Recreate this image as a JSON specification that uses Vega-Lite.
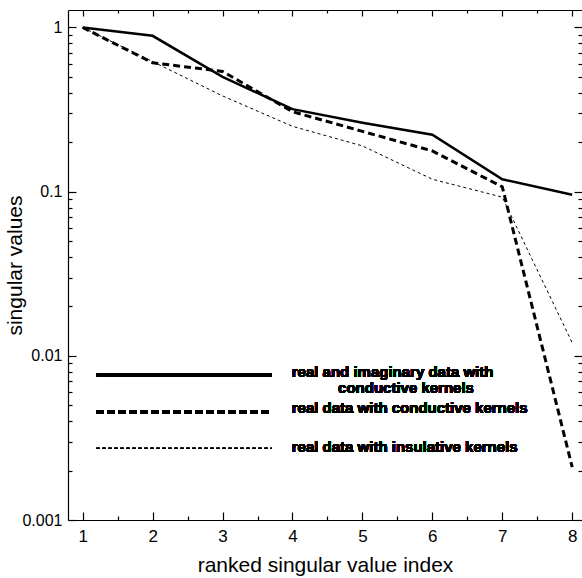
{
  "$schema": "https://vega.github.io/schema/vega-lite/v6.json",
  "width": 514,
  "height": 510,
  "autosize": {"type": "none"},
  "padding": {"left": 68, "top": 10, "right": 0, "bottom": 58},
  "background": "white",
  "config": {
    "view": {"stroke": null},
    "font": "Liberation Sans",
    "axis": {"grid": false, "domainColor": "black", "tickColor": "black", "labelColor": "black", "titleColor": "black", "labelFont": "Liberation Sans", "titleFont": "Liberation Sans", "titleFontWeight": "normal", "domainWidth": 1.2, "tickWidth": 1.2}
  },
  "datasets": {
    "sv": [
      {"i": 1, "v": 1, "series": "real and imaginary data with conductive kernels"},
      {"i": 2, "v": 0.89, "series": "real and imaginary data with conductive kernels"},
      {"i": 3, "v": 0.5, "series": "real and imaginary data with conductive kernels"},
      {"i": 4, "v": 0.318, "series": "real and imaginary data with conductive kernels"},
      {"i": 5, "v": 0.263, "series": "real and imaginary data with conductive kernels"},
      {"i": 6, "v": 0.222, "series": "real and imaginary data with conductive kernels"},
      {"i": 7, "v": 0.119, "series": "real and imaginary data with conductive kernels"},
      {"i": 8, "v": 0.0957, "series": "real and imaginary data with conductive kernels"},
      {"i": 1, "v": 1, "series": "real data with conductive kernels"},
      {"i": 2, "v": 0.61, "series": "real data with conductive kernels"},
      {"i": 3, "v": 0.54, "series": "real data with conductive kernels"},
      {"i": 4, "v": 0.307, "series": "real data with conductive kernels"},
      {"i": 5, "v": 0.233, "series": "real data with conductive kernels"},
      {"i": 6, "v": 0.177, "series": "real data with conductive kernels"},
      {"i": 7, "v": 0.107, "series": "real data with conductive kernels"},
      {"i": 8, "v": 0.0021, "series": "real data with conductive kernels"},
      {"i": 1, "v": 1, "series": "real data with insulative kernels"},
      {"i": 2, "v": 0.62, "series": "real data with insulative kernels"},
      {"i": 3, "v": 0.383, "series": "real data with insulative kernels"},
      {"i": 4, "v": 0.25, "series": "real data with insulative kernels"},
      {"i": 5, "v": 0.19, "series": "real data with insulative kernels"},
      {"i": 6, "v": 0.119, "series": "real data with insulative kernels"},
      {"i": 7, "v": 0.0926, "series": "real data with insulative kernels"},
      {"i": 8, "v": 0.012, "series": "real data with insulative kernels"}
    ]
  },
  "data": {"name": "sv"},
  "resolve": {"axis": {"x": "independent", "y": "independent"}},
  "layer": [
    {
      "transform": [{"filter": "datum.series === 'real and imaginary data with conductive kernels'"}],
      "mark": {"type": "line", "color": "black", "strokeWidth": 2.5},
      "encoding": {
        "x": {"field": "i", "type": "quantitative", "scale": {"domain": [0.79, 8.14], "nice": false, "zero": false},
          "axis": {"orient": "bottom", "values": [1, 2, 3, 4, 5, 6, 7, 8], "tickSize": -8, "labelPadding": 16, "labelFontSize": 17, "title": "ranked singular value index", "titleFontSize": 21, "titlePadding": 10}},
        "y": {"field": "v", "type": "quantitative", "scale": {"type": "log", "domain": [0.001, 1.278], "nice": false},
          "axis": {"orient": "left", "values": [0.001, 0.01, 0.1, 1], "format": "~g", "tickSize": -8, "labelPadding": 14, "labelFontSize": 16, "title": "singular values", "titleFontSize": 21, "titleX": -43, "titleY": 255}}
      }
    },
    {
      "transform": [{"filter": "datum.series === 'real data with conductive kernels'"}],
      "mark": {"type": "line", "color": "black", "strokeWidth": 3, "strokeDash": [7, 4]},
      "encoding": {
        "x": {"field": "i", "type": "quantitative", "axis": null},
        "y": {"field": "v", "type": "quantitative", "axis": null}
      }
    },
    {
      "transform": [{"filter": "datum.series === 'real data with insulative kernels'"}],
      "mark": {"type": "line", "color": "black", "strokeWidth": 1, "strokeDash": [3, 3]},
      "encoding": {
        "x": {"field": "i", "type": "quantitative", "axis": null},
        "y": {"field": "v", "type": "quantitative", "axis": null}
      }
    },
    {
      "mark": {"type": "point", "opacity": 0},
      "encoding": {
        "x": {"field": "i", "type": "quantitative", "axis": {"orient": "top", "values": [1, 2, 3, 4, 5, 6, 7, 8], "tickSize": -6, "labels": false, "title": null}},
        "y": {"field": "v", "type": "quantitative", "axis": {"orient": "right", "values": [0.001, 0.01, 0.1, 1], "tickSize": -8, "labels": false, "title": null, "domain": false}}
      }
    },
    {
      "mark": {"type": "point", "opacity": 0},
      "encoding": {
        "x": {"field": "i", "type": "quantitative", "axis": {"orient": "bottom", "values": [1.5, 2.5, 3.5, 4.5, 5.5, 6.5, 7.5], "tickSize": -4, "labels": false, "title": null, "domain": false}},
        "y": {"field": "v", "type": "quantitative", "axis": {"orient": "left", "values": [0.002, 0.003, 0.004, 0.005, 0.006, 0.007, 0.008, 0.009, 0.02, 0.03, 0.04, 0.05, 0.06, 0.07, 0.08, 0.09, 0.2, 0.3, 0.4, 0.5, 0.6, 0.7, 0.8, 0.9], "tickSize": -4, "labels": false, "title": null, "domain": false}}
      }
    },
    {
      "mark": {"type": "point", "opacity": 0},
      "encoding": {
        "x": {"field": "i", "type": "quantitative", "axis": {"orient": "top", "values": [1.5, 2.5, 3.5, 4.5, 5.5, 6.5, 7.5], "tickSize": -3, "labels": false, "title": null, "domain": false}},
        "y": {"field": "v", "type": "quantitative", "axis": {"orient": "right", "values": [0.002, 0.003, 0.004, 0.005, 0.006, 0.007, 0.008, 0.009, 0.02, 0.03, 0.04, 0.05, 0.06, 0.07, 0.08, 0.09, 0.2, 0.3, 0.4, 0.5, 0.6, 0.7, 0.8, 0.9], "tickSize": -4, "labels": false, "title": null, "domain": false}}
      }
    },
    {
      "mark": {"type": "rule", "color": "black", "strokeWidth": 2.5},
      "encoding": {"x": {"datum": 1.198, "type": "quantitative", "axis": null}, "x2": {"datum": 3.703}, "y": {"datum": 0.00764, "type": "quantitative", "axis": null}}
    },
    {
      "mark": {"type": "rule", "color": "black", "strokeWidth": 3, "strokeDash": [7, 4]},
      "encoding": {"x": {"datum": 1.198, "type": "quantitative", "axis": null}, "x2": {"datum": 3.703}, "y": {"datum": 0.00457, "type": "quantitative", "axis": null}}
    },
    {
      "mark": {"type": "rule", "color": "black", "strokeWidth": 1, "strokeDash": [3, 3]},
      "encoding": {"x": {"datum": 1.198, "type": "quantitative", "axis": null}, "x2": {"datum": 3.703}, "y": {"datum": 0.00273, "type": "quantitative", "axis": null}}
    },
    {
      "mark": {"type": "text", "text": "real and imaginary data with", "align": "left", "baseline": "middle", "fontWeight": "bold", "fontSize": 15, "color": "black"},
      "encoding": {"x": {"datum": 3.989, "type": "quantitative", "axis": null}, "y": {"datum": 0.0080, "type": "quantitative", "axis": null}}
    },
    {
      "mark": {"type": "text", "text": "conductive kernels", "align": "left", "baseline": "middle", "fontWeight": "bold", "fontSize": 15, "color": "black"},
      "encoding": {"x": {"datum": 4.652, "type": "quantitative", "axis": null}, "y": {"datum": 0.00637, "type": "quantitative", "axis": null}}
    },
    {
      "mark": {"type": "text", "text": "real data with conductive kernels", "align": "left", "baseline": "middle", "fontWeight": "bold", "fontSize": 15, "color": "black"},
      "encoding": {"x": {"datum": 3.989, "type": "quantitative", "axis": null}, "y": {"datum": 0.00481, "type": "quantitative", "axis": null}}
    },
    {
      "mark": {"type": "text", "text": "real data with insulative kernels", "align": "left", "baseline": "middle", "fontWeight": "bold", "fontSize": 15, "color": "black"},
      "encoding": {"x": {"datum": 3.989, "type": "quantitative", "axis": null}, "y": {"datum": 0.0028, "type": "quantitative", "axis": null}}
    }
  ]
}
